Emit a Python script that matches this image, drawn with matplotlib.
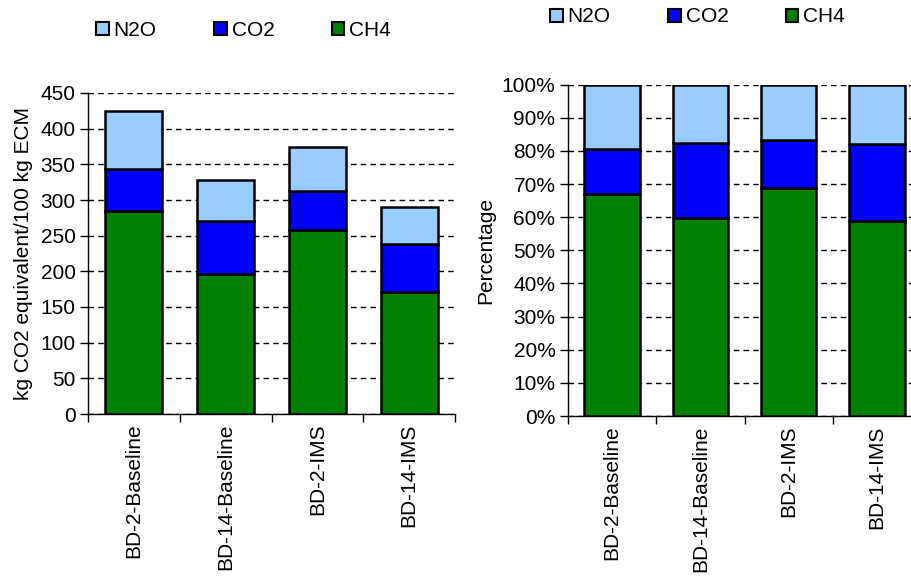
import matplotlib
matplotlib.use("Agg")
import matplotlib.pyplot as plt
import numpy as np
from matplotlib.patches import Patch
from matplotlib.ticker import FuncFormatter

plt.rcParams['font.family'] = ['Liberation Sans', 'DejaVu Sans']

categories = ["BD-2-Baseline", "BD-14-Baseline", "BD-2-IMS", "BD-14-IMS"]
ch4 = [285, 196, 258, 171]
co2 = [58, 74, 54, 67]
n2o = [82, 58, 63, 52]
left_ticks = [0, 50, 100, 150, 200, 250, 300, 350, 400, 450]
right_ticks = [0, 10, 20, 30, 40, 50, 60, 70, 80, 90, 100]

colors = {"N2O": "#99CCFF", "CO2": "#0000FF", "CH4": "#008000"}
FS = 15

fig = plt.figure(figsize=(9.11, 5.78), dpi=100)
axL = fig.add_axes([88/911, 1-414/578, 367/911, (414-93)/578])
axR = fig.add_axes([568/911, 1-416/578, 353/911, (416-84.7)/578])

x = np.arange(len(categories))
ch4a = np.array(ch4, float); co2a = np.array(co2, float); n2oa = np.array(n2o, float)
tot = ch4a + co2a + n2oa


def draw(ax, a, b, c, width):
    kw = dict(edgecolor="black", linewidth=1.8, width=width, zorder=3)
    ax.bar(x, a, color=colors["CH4"], **kw)
    ax.bar(x, b, bottom=a, color=colors["CO2"], **kw)
    ax.bar(x, c, bottom=a + b, color=colors["N2O"], **kw)
    ax.set_xlim(-0.5, len(categories) - 0.5)
    ax.set_xticks(np.arange(len(categories) + 1) - 0.5)
    ax.set_xticklabels([])
    ax.set_xticks(x, minor=True)
    ax.set_xticklabels(categories, minor=True, rotation=90, fontsize=FS, va="top")
    ax.tick_params(axis="x", which="minor", length=0, pad=7)
    ax.tick_params(axis="x", which="major", length=6, width=1, direction="out")
    ax.tick_params(axis="y", length=6, width=1, direction="out", labelsize=FS, pad=3)
    ax.yaxis.grid(True, linestyle=(0, (4, 3)), color="black", linewidth=1, zorder=0)
    ax.set_axisbelow(True)
    for s in ("top", "right"):
        ax.spines[s].set_visible(False)
    for s in ("left", "bottom"):
        ax.spines[s].set_linewidth(1)
        ax.spines[s].set_color("black")


draw(axL, ch4a, co2a, n2oa, 0.62)
axL.set_ylim(0, 450)
axL.set_yticks(left_ticks)
axL.set_ylabel("kg CO2 equivalent/100 kg ECM", fontsize=FS, labelpad=5)

draw(axR, ch4a / tot * 100, co2a / tot * 100, n2oa / tot * 100, 0.63)
axR.set_ylim(0, 100)
axR.set_yticks(right_ticks)
axR.yaxis.set_major_formatter(FuncFormatter(lambda v, p: f"{int(v)}%"))
axR.set_ylabel("Percentage", fontsize=FS, labelpad=5)

handles = [Patch(facecolor=colors[k], edgecolor="black", linewidth=1.5, label=k)
           for k in ("N2O", "CO2", "CH4")]
for ax, (lx, ly) in ((axL, (96/911, 1-30/578)), (axR, (550/911, 1-17/578))):
    fig.legend(handles=handles, loc="center left", bbox_to_anchor=(lx, ly),
               ncol=3, frameon=False, fontsize=FS, handlelength=0.6, handleheight=0.6,
               handletextpad=0.25, columnspacing=2.75, borderaxespad=0, borderpad=0)

fig.savefig("out.png", dpi=100)
